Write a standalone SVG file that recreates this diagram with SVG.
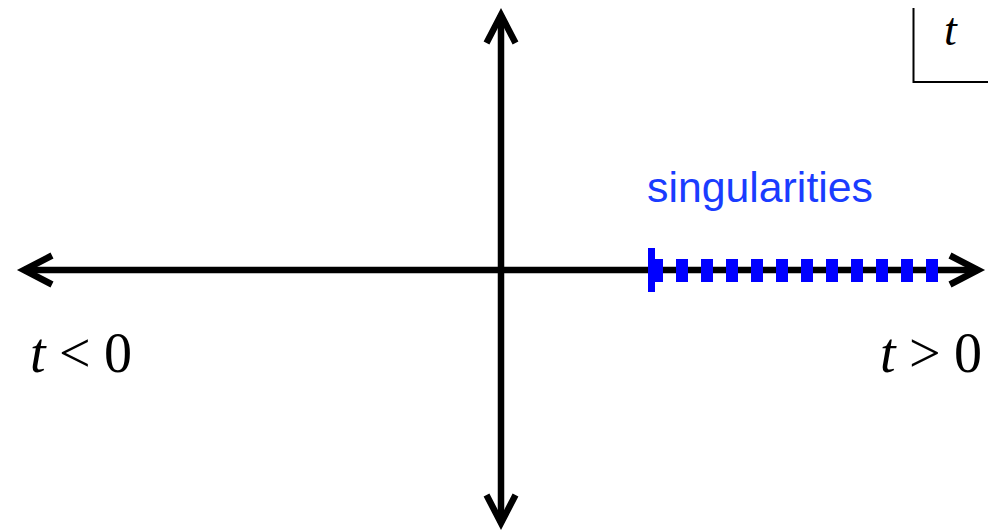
<svg xmlns="http://www.w3.org/2000/svg" width="988" height="531" viewBox="0 0 988 531">
<style>
.axis{stroke:#000;stroke-width:6.5;fill:none}
.math{font-family:"Liberation Serif","Times New Roman",serif;fill:#000}
.it{font-style:italic}
.blue{font-family:"Liberation Sans",Arial,Helvetica,sans-serif;fill:#1a3cff}
</style>
<defs>
<marker id="arr" markerUnits="userSpaceOnUse" orient="auto-start-reverse" markerWidth="60" markerHeight="60" refX="0" refY="0" viewBox="-40 -30 60 60" overflow="visible">
<path d="M -28 -14.5 L 0 0 L -28 14.5" fill="none" stroke="#000" stroke-width="6.5" stroke-linejoin="miter" stroke-miterlimit="10"/>
</marker>
</defs>
<rect width="988" height="531" fill="#fff"/>
<g id="connectors">
<line class="axis" x1="24" y1="270" x2="978" y2="270" marker-start="url(#arr)" marker-end="url(#arr)"/>
<line class="axis" x1="501" y1="523" x2="501" y2="15" marker-start="url(#arr)" marker-end="url(#arr)"/>
</g>
<g id="singularities">
<line x1="651" y1="270.5" x2="939" y2="270.5" stroke="#0000ff" stroke-width="23" stroke-dasharray="12 13"/>
<line x1="651.5" y1="248" x2="651.5" y2="292" stroke="#0000ff" stroke-width="7"/>
<text class="blue" x="647" y="202" font-size="42.8">singularities</text>
</g>
<g id="label-neg">
<text class="math" y="372" font-size="56"><tspan class="it" x="30">t</tspan><tspan x="59">&lt;</tspan><tspan x="104">0</tspan></text>
</g>
<g id="label-pos">
<text class="math" y="372" font-size="56"><tspan class="it" x="880">t</tspan><tspan x="909">&gt;</tspan><tspan x="954">0</tspan></text>
</g>
<g id="tbox">
<path d="M 913.5 8 V 82 H 988" fill="none" stroke="#000" stroke-width="2"/>
<text class="math it" x="944" y="45" font-size="46">t</text>
</g>
</svg>
